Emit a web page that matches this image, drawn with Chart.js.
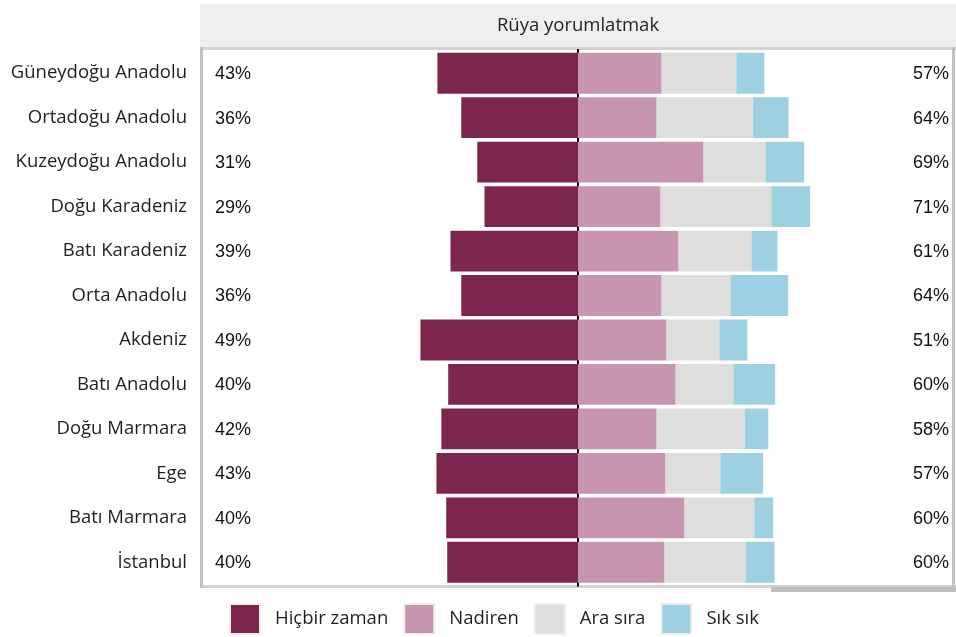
<!DOCTYPE html>
<html>
<head>
<meta charset="utf-8">
<script src="https://cdn.jsdelivr.net/npm/chart.js@4.4.0/dist/chart.umd.min.js"></script>
<style>
  html, body { margin: 0; padding: 0; background: #fff; }
  .chart__wrap { width: 956px; height: 637px; position: relative; }
</style>
</head>
<body>
<div class="chart__wrap"><canvas id="chart__1"></canvas></div>
<script>
"use strict";

// ** Data
const regions = [
  "Güneydoğu Anadolu", "Ortadoğu Anadolu", "Kuzeydoğu Anadolu", "Doğu Karadeniz",
  "Batı Karadeniz", "Orta Anadolu", "Akdeniz", "Batı Anadolu",
  "Doğu Marmara", "Ege", "Batı Marmara", "İstanbul",
];
const seriesNames = ["Hiçbir zaman", "Nadiren", "Ara sıra", "Sık sık"];
const hicbirZaman = [43.0, 35.7, 30.8, 28.6, 39.0, 35.7, 48.2, 39.7, 41.8, 43.3, 40.3, 40.0];
const nadiren = [25.5, 24.0, 38.3, 25.2, 30.7, 25.5, 27.0, 29.8, 24.0, 26.7, 32.5, 26.4];
const araSira = [22.9, 29.4, 19.0, 33.9, 22.3, 21.1, 16.2, 17.7, 26.9, 16.8, 21.4, 24.8];
const sikSik = [8.6, 11.0, 11.9, 11.9, 8.0, 17.7, 8.6, 12.8, 7.3, 13.1, 5.8, 8.9];
const leftLabels = [43, 36, 31, 29, 39, 36, 49, 40, 42, 43, 40, 40];
const rightLabels = [57, 64, 69, 71, 61, 64, 51, 60, 58, 57, 60, 60];
const panelTitle = "Rüya yorumlatmak";

const colors = ["#7c264e", "#c795b0", "#dedede", "#9dd0e0"];
const textColor = "#1f1f1f";
const sansFont = "18.5px 'Open Sans'";

// ** Plugins
const panelPlugin = {
  id: "panel",
  beforeDatasetsDraw: (chart) => {
    const { ctx, chartArea, scales } = chart;
    ctx.save();
    // strip
    ctx.fillStyle = "#efefef";
    ctx.fillRect(200, 4, 756, 43);
    ctx.fillStyle = textColor;
    ctx.font = sansFont;
    ctx.textAlign = "center";
    ctx.textBaseline = "middle";
    ctx.fillText(panelTitle, scales.x.getPixelForValue(0), 26);
    // border
    ctx.fillStyle = "#d2d2d2";
    ctx.fillRect(200, 47, 756, 3);
    ctx.fillRect(200, 585, 756, 3);
    ctx.fillStyle = "#c2c2c2";
    ctx.fillRect(200, 47, 3, 541);
    ctx.fillRect(952, 47, 3, 541);
    ctx.fillStyle = "#bdbdbd";
    ctx.fillRect(771, 587, 185, 5);
    // center line
    const x0 = scales.x.getPixelForValue(0);
    ctx.strokeStyle = "#000";
    ctx.lineWidth = 2;
    ctx.beginPath();
    ctx.moveTo(x0, chartArea.top - 2);
    ctx.lineTo(x0, chartArea.bottom + 2);
    ctx.stroke();
    ctx.restore();
  },
  afterDatasetsDraw: (chart) => {
    const { ctx, chartArea, scales } = chart;
    ctx.save();
    ctx.fillStyle = "#111";
    ctx.font = "18px 'Liberation Sans', Arial";
    ctx.textBaseline = "middle";
    regions.forEach((r, i) => {
      const y = scales.y.getPixelForValue(i) + 1;
      ctx.textAlign = "left";
      ctx.fillText(`${leftLabels[i]}%`, chartArea.left + 12, y);
      ctx.textAlign = "right";
      ctx.fillText(`${rightLabels[i]}%`, chartArea.right - 4, y);
    });

    // legend
    ctx.font = sansFont;
    ctx.textAlign = "left";
    let x = 231;
    chart.data.datasets.forEach((ds) => {
      ctx.fillStyle = "#efefef";
      ctx.fillRect(x - 2, 603, 32, 32);
      ctx.fillStyle = ds.backgroundColor;
      ctx.fillRect(x, 605, 28, 28);
      ctx.fillStyle = textColor;
      ctx.fillText(ds.label, x + 44, 619);
      x += 44 + ctx.measureText(ds.label).width + 17;
    });
    ctx.restore();
  },
};

// **CHART JS
const config = {
  type: "bar",
  data: {
    labels: regions,
    datasets: [
      { label: seriesNames[0], data: hicbirZaman.map((v) => -v), backgroundColor: colors[0] },
      { label: seriesNames[1], data: nadiren, backgroundColor: colors[1] },
      { label: seriesNames[2], data: araSira, backgroundColor: colors[2] },
      { label: seriesNames[3], data: sikSik, backgroundColor: colors[3] },
    ],
  },
  options: {
    indexAxis: "y",
    responsive: true,
    maintainAspectRatio: false,
    animation: false,
    layout: { padding: { top: 51, bottom: 52.5, left: 0, right: 3 } },
    datasets: {
      bar: { categoryPercentage: 1, barPercentage: 0.918, borderWidth: 0 },
    },
    scales: {
      x: {
        stacked: true,
        display: false,
        min: -114.7,
        max: 114.7,
      },
      y: {
        stacked: true,
        grid: { display: false, drawTicks: false },
        border: { display: false },
        ticks: {
          padding: 16,
          color: textColor,
          font: { family: "'Open Sans'", size: 18.5 },
        },
        afterFit: (scale) => {
          scale.width = 203;
        },
      },
    },
    plugins: {
      legend: { display: false },
      tooltip: { enabled: false },
    },
  },
  plugins: [panelPlugin],
};

const ctx = document.getElementById("chart__1").getContext("2d");
const chart = new Chart(ctx, config);
</script>
</body>
</html>
